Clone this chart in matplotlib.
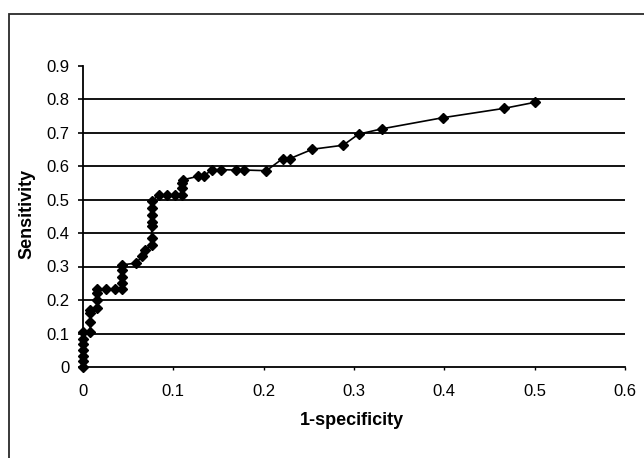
import numpy as np
import matplotlib
matplotlib.use('Agg')
import matplotlib.pyplot as plt
from matplotlib.patches import Rectangle

# ------------------ ROC points ------------------
fpr = [0, 0, 0, 0, 0, 0, 0,
       0.008, 0.008, 0.008, 0.008,
       0.016, 0.016, 0.016, 0.016,
       0.026, 0.035,
       0.043, 0.043, 0.043, 0.043, 0.043,
       0.059, 0.065, 0.069,
       0.076, 0.076, 0.076, 0.076, 0.076, 0.076, 0.076,
       0.084, 0.093, 0.102,
       0.110, 0.110, 0.110, 0.111,
       0.127, 0.134, 0.143, 0.153, 0.169, 0.178, 0.203,
       0.221, 0.229, 0.254, 0.288, 0.305, 0.331, 0.398, 0.466, 0.500]
tpr = [0, 0.017, 0.034, 0.051, 0.068, 0.085, 0.103,
       0.105, 0.135, 0.16, 0.17,
       0.175, 0.20, 0.22, 0.232,
       0.232, 0.232,
       0.232, 0.25, 0.27, 0.29, 0.305,
       0.31, 0.33, 0.35,
       0.365, 0.384, 0.42, 0.434, 0.455, 0.475, 0.495,
       0.513, 0.513, 0.513,
       0.513, 0.533, 0.55, 0.559,
       0.569, 0.571, 0.589, 0.589, 0.588, 0.588, 0.586,
       0.622, 0.622, 0.65, 0.662, 0.695, 0.711, 0.744, 0.772, 0.790]

xticks = [0, 0.1, 0.2, 0.3, 0.4, 0.5, 0.6]
yticks = [0, 0.1, 0.2, 0.3, 0.4, 0.5, 0.6, 0.7, 0.8, 0.9]
xtick_labels = ['0', '0.1', '0.2', '0.3', '0.4', '0.5', '0.6']
ytick_labels = ['0', '0.1', '0.2', '0.3', '0.4', '0.5', '0.6', '0.7', '0.8', '0.9']

plt.rcParams['font.family'] = ['Liberation Sans', 'DejaVu Sans']

fig = plt.figure(figsize=(6.44, 4.58), dpi=100)
ax = fig.add_axes([83 / 644, 1 - 367 / 458, (625 - 83) / 644, (367 - 65.5) / 458])

# outer chart border (cut off on right/bottom as in the scan)
fig.patches.append(Rectangle((8.5 / 644, -0.1), 1.1, 1 - 14 / 458 + 0.1,
                             transform=fig.transFigure, fill=False,
                             edgecolor='#2a2a2a', linewidth=1.3, zorder=0))

# horizontal gridlines, not on the top tick
ax.hlines(yticks[1:-1], xticks[0], xticks[-1], colors='black', linewidth=1.3, zorder=1)

ax.plot(fpr, tpr, color='black', linewidth=1.2, marker='D', markersize=4.8,
        markerfacecolor='black', markeredgecolor='black', zorder=3, clip_on=False)

ax.set_xlim(0, 0.6)
ax.set_ylim(0, 0.9)
ax.set_xticks(xticks)
ax.set_xticklabels(xtick_labels)
ax.set_yticks(yticks)
ax.set_yticklabels(ytick_labels)
ax.tick_params(axis='y', direction='out', length=3.5, width=1.2, colors='black',
               labelsize=12, pad=6)
ax.tick_params(axis='x', direction='out', length=2.5, width=1.0, colors='black',
               labelsize=12, pad=10)

for side in ['top', 'right']:
    ax.spines[side].set_visible(False)
for side in ['left', 'bottom']:
    ax.spines[side].set_linewidth(1.3)
    ax.spines[side].set_color('black')

ax.set_xlabel('1-specificity', fontsize=13, fontweight='bold', va='center')
ax.set_ylabel('Sensitivity', fontsize=13, fontweight='bold', va='center')
ax.xaxis.set_label_coords(0.497, -0.179)
ax.yaxis.set_label_coords(-0.103, 0.507)

fig.savefig('out.png', dpi=100)
